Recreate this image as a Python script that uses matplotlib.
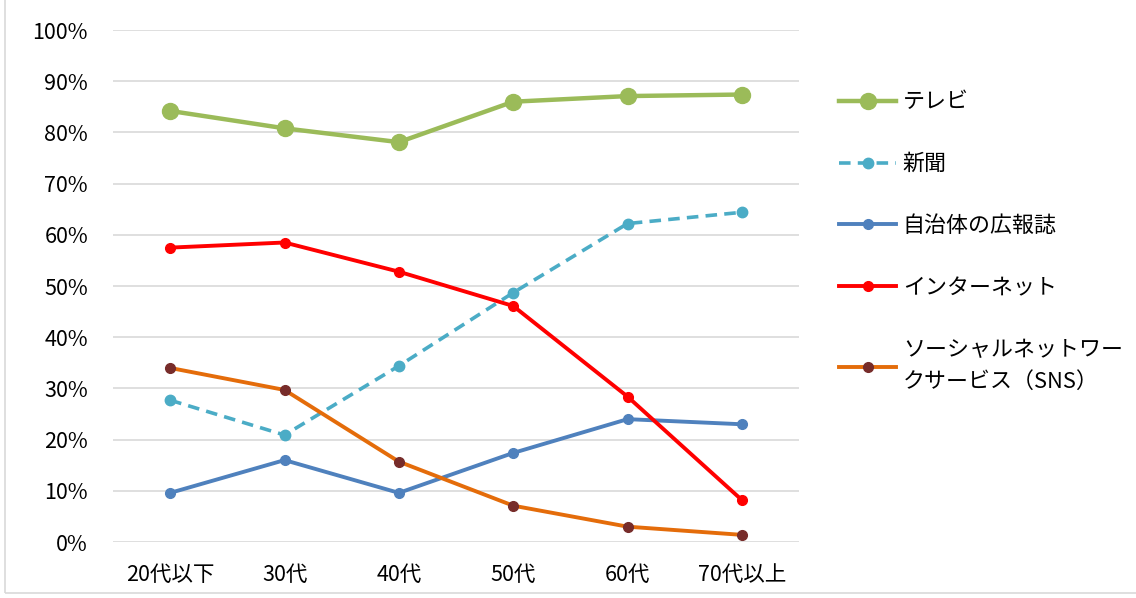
import matplotlib.pyplot as plt
from matplotlib.patches import Rectangle

plt.rcParams['font.family'] = ['Noto Sans CJK JP', 'DejaVu Sans']

ages = ['20代以下', '30代', '40代', '50代', '60代', '70代以上']

tv = [84.2, 80.8, 78.1, 86.0, 87.1, 87.4]
newspaper = [27.7, 20.9, 34.4, 48.7, 62.2, 64.4]
koho = [9.6, 16.0, 9.6, 17.4, 24.0, 23.0]
internet = [57.5, 58.5, 52.8, 46.1, 28.4, 8.2]
sns = [34.0, 29.7, 15.7, 7.1, 3.0, 1.4]

labels = ['テレビ', '新聞', '自治体の広報誌', 'インターネット',
          'ソーシャルネットワー\nクサービス（SNS）']

fig = plt.figure(figsize=(11.36, 5.98), dpi=100)
ax = fig.add_axes([0.0995, 0.0936, 0.6039, 0.8562])

x = range(len(ages))
ax.plot(x, tv, color='#9BBB59', lw=3.2, marker='o', ms=11.5, label=labels[0])
ax.plot(x, newspaper, color='#4BACC6', lw=2.6, ls=(0, (3.2, 2.0)), marker='o', ms=7.5,
        label=labels[1])
ax.plot(x, koho, color='#4F81BD', lw=2.8, marker='o', ms=7, label=labels[2])
ax.plot(x, internet, color='#FF0000', lw=2.8, marker='o', ms=7, label=labels[3])
ax.plot(x, sns, color='#E46C0A', lw=2.8, marker='o', ms=7,
        mfc='#772C2A', mec='#772C2A', label=labels[4])

ax.set_xlim(-0.5, len(ages) - 0.5)
ax.set_ylim(0, 100)
ax.set_yticks(range(0, 101, 10))
ax.set_yticklabels([f'{v}%' for v in range(0, 101, 10)])
ax.set_xticks(list(x))
ax.set_xticklabels(ages)
ax.tick_params(axis='both', length=0, labelsize=15.5)
ax.tick_params(axis='y', pad=18)
ax.tick_params(axis='x', pad=16)
ax.grid(axis='y', color='#D9D9D9', lw=1.2)
ax.set_axisbelow(True)
for s in ax.spines.values():
    s.set_visible(False)

leg = fig.legend(loc='upper left', bbox_to_anchor=(0.731, 0.862), frameon=False,
                 fontsize=15.8, handlelength=2.6, handletextpad=0.3,
                 labelspacing=1.82, borderaxespad=0)
for t in leg.get_texts():
    t.set_linespacing(1.55)

fig.patches.append(Rectangle((0.004, 0.008), 1.2, 1.2, transform=fig.transFigure,
                             fill=False, edgecolor='#D9D9D9', lw=1.2))

fig.savefig('out.png', dpi=100)
